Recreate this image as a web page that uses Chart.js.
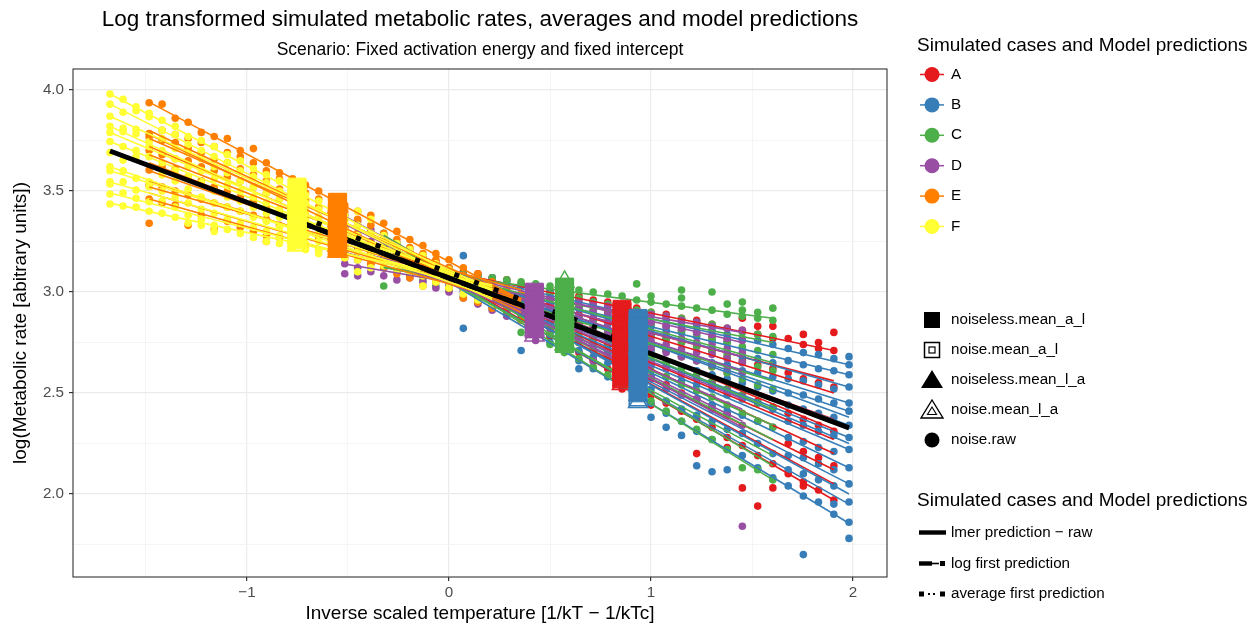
<!DOCTYPE html>
<html>
<head>
<meta charset="utf-8">
<script src="https://cdn.jsdelivr.net/npm/chart.js@4.4.1/dist/chart.umd.min.js"></script>
<style>
  html, body { margin: 0; padding: 0; background: #ffffff; }
</style>
</head>
<body>
<canvas id="MetabolicChart" width="1259" height="635"></canvas>
<script>
const FONT = "'Liberation Sans', Arial, Helvetica, sans-serif";

// inverse scaled temperatures (one column of points per temperature)
const tempCols = [-1.678, -1.613, -1.549, -1.484, -1.42, -1.355, -1.291, -1.226, -1.162, -1.097,
    -1.033, -0.968, -0.904, -0.839, -0.774, -0.71, -0.645, -0.581, -0.516, -0.452,
    -0.387, -0.323, -0.258, -0.194, -0.129, -0.065, 0, 0.071, 0.143, 0.214,
    0.286, 0.357, 0.429, 0.5, 0.571, 0.643, 0.714, 0.786, 0.857, 0.929,
    1, 1.075, 1.151, 1.226, 1.302, 1.377, 1.452, 1.528, 1.603, 1.679,
    1.754, 1.829, 1.905, 1.98];

const caseNames = ['A', 'B', 'C', 'D', 'E', 'F'];
const caseColors = ['#E41A1C', '#377EB8', '#4DAF4A', '#984EA3', '#FF7F00', '#FFFF33'];
const firstCol = [24, 25, 21, 18, 3, 0];

// noise.raw, one array of log rates per temperature column
const rawA = [[3.17, 3.14, 3.10], [3.15, 3.11, 3.07], [3.12, 3.08, 3.05], [3.10, 3.06, 3.02], [3.09, 3.04, 2.99],
    [3.07, 3.01, 2.95], [3.06, 2.99, 2.92], [3.04, 2.97, 2.89], [3.03, 2.95, 2.87],
    [3.01, 2.97, 2.93, 2.89, 2.85, 2.78], [2.99, 2.95, 2.91, 2.86, 2.82, 2.74], [2.98, 2.93, 2.89, 2.84, 2.80, 2.75, 2.70],
    [2.96, 2.91, 2.87, 2.82, 2.77, 2.71, 2.66], [2.95, 2.90, 2.85, 2.80, 2.74, 2.68, 2.62],
    [2.93, 2.88, 2.83, 2.77, 2.71, 2.64, 2.58, 2.52], [2.92, 2.86, 2.81, 2.75, 2.69, 2.61, 2.54],
    [2.90, 2.85, 2.79, 2.73, 2.66, 2.58, 2.49, 2.44], [2.89, 2.83, 2.77, 2.71, 2.63, 2.54, 2.45],
    [2.87, 2.81, 2.75, 2.68, 2.60, 2.50, 2.41], [2.86, 2.80, 2.73, 2.66, 2.57, 2.47, 2.37, 2.20],
    [2.84, 2.78, 2.71, 2.63, 2.55, 2.44, 2.33], [2.82, 2.76, 2.68, 2.60, 2.52, 2.40, 2.28, 2.23],
    [2.87, 2.81, 2.66, 2.49, 2.24, 2.03], [2.83, 2.79, 2.64, 2.46, 2.19, 1.94], [2.83, 2.77, 2.62, 2.43, 2.15, 2.03],
    [2.77, 2.60, 2.40, 2.25, 2.10], [2.79, 2.74, 2.57, 2.37, 2.21, 2.06, 2.04], [2.75, 2.72, 2.55, 2.34, 2.18, 2.02],
    [2.80, 2.71, 2.53, 2.31, 2.14, 1.97]];
const rawB = [[3.14, 3.10, 3.06], [3.12, 3.08, 3.04], [3.18, 3.09, 3.05, 3.00, 2.82], [3.08, 3.03, 2.97], [3.07, 3.00, 2.93],
    [3.05, 2.98, 2.90], [3.03, 2.96, 2.87, 2.71], [3.02, 2.94, 2.86, 2.79],
    [3.00, 2.95, 2.92, 2.87, 2.83, 2.79, 2.75], [2.98, 2.93, 2.90, 2.85, 2.80, 2.75, 2.71],
    [2.96, 2.92, 2.88, 2.82, 2.77, 2.71, 2.66, 2.62], [2.95, 2.90, 2.86, 2.80, 2.75, 2.68, 2.62],
    [2.93, 2.88, 2.84, 2.78, 2.72, 2.65, 2.58], [2.92, 2.86, 2.82, 2.76, 2.69, 2.61, 2.54],
    [2.90, 2.85, 2.80, 2.73, 2.67, 2.58, 2.49], [2.88, 2.83, 2.78, 2.71, 2.64, 2.58, 2.52, 2.45, 2.38],
    [2.86, 2.81, 2.77, 2.71, 2.65, 2.58, 2.52, 2.46, 2.40, 2.33],
    [2.85, 2.80, 2.76, 2.69, 2.63, 2.56, 2.49, 2.42, 2.36, 2.29],
    [2.83, 2.78, 2.74, 2.67, 2.61, 2.54, 2.47, 2.39, 2.31, 2.14],
    [2.81, 2.76, 2.72, 2.65, 2.59, 2.52, 2.44, 2.36, 2.27, 2.11],
    [2.79, 2.75, 2.70, 2.64, 2.57, 2.49, 2.41, 2.32, 2.22, 2.12],
    [2.77, 2.72, 2.68, 2.61, 2.55, 2.47, 2.39, 2.30, 2.19],
    [2.76, 2.67, 2.60, 2.53, 2.45, 2.36, 2.25, 2.13], [2.74, 2.65, 2.58, 2.51, 2.42, 2.33, 2.20, 2.08],
    [2.72, 2.66, 2.57, 2.50, 2.44, 2.36, 2.28, 2.19, 2.12, 2.04],
    [2.70, 2.64, 2.56, 2.49, 2.42, 2.34, 2.26, 2.18, 2.10, 1.99, 1.70],
    [2.69, 2.62, 2.54, 2.47, 2.40, 2.31, 2.23, 2.15, 2.07, 1.96],
    [2.67, 2.61, 2.52, 2.45, 2.38, 2.29, 2.21, 2.12, 2.04, 1.95, 1.90],
    [2.68, 2.64, 2.59, 2.53, 2.45, 2.41, 2.34, 2.28, 2.22, 2.13, 2.05, 1.96, 1.86, 1.78]];
const rawC = [[3.29, 3.23, 3.17, 3.12, 3.03], [3.24, 3.19, 3.15, 3.11], [3.20, 3.16, 3.12, 3.08], [3.17, 3.13, 3.10, 3.06],
    [3.14, 3.10, 3.07, 3.03], [3.11, 3.08, 3.05, 3.01], [3.09, 3.05, 3.02, 2.98], [3.08, 3.03, 2.99, 2.95],
    [3.07, 3.01, 2.96, 2.92], [3.06, 3.00, 2.94, 2.89], [3.05, 2.98, 2.92, 2.86, 2.80], [3.04, 2.97, 2.90, 2.83],
    [3.03, 2.99, 2.96, 2.92, 2.88, 2.84, 2.80, 2.74], [3.02, 2.98, 2.94, 2.90, 2.86, 2.82, 2.78, 2.70],
    [3.01, 2.97, 2.93, 2.88, 2.84, 2.79, 2.75, 2.67], [3.00, 2.95, 2.91, 2.86, 2.82, 2.77, 2.73, 2.63],
    [2.99, 2.94, 2.89, 2.85, 2.80, 2.75, 2.70, 2.59], [2.98, 2.93, 2.88, 2.83, 2.78, 2.72, 2.67, 2.55],
    [3.04, 2.96, 2.91, 2.86, 2.81, 2.75, 2.70, 2.64, 2.51], [2.98, 2.95, 2.90, 2.84, 2.79, 2.73, 2.67, 2.61, 2.46],
    [2.94, 2.88, 2.83, 2.77, 2.71, 2.65, 2.58, 2.41], [3.01, 2.97, 2.93, 2.87, 2.81, 2.75, 2.68, 2.62, 2.54, 2.36],
    [2.92, 2.85, 2.79, 2.73, 2.66, 2.59, 2.51, 2.32], [3.00, 2.91, 2.84, 2.77, 2.70, 2.63, 2.56, 2.48, 2.27],
    [2.94, 2.89, 2.82, 2.75, 2.68, 2.60, 2.52, 2.44, 2.22], [2.95, 2.91, 2.88, 2.80, 2.73, 2.65, 2.57, 2.49, 2.40, 2.13],
    [2.90, 2.87, 2.79, 2.71, 2.63, 2.54, 2.45, 2.36, 2.12], [2.92, 2.86, 2.78, 2.69, 2.61, 2.52, 2.43, 2.33, 2.07]];
const rawD = [[3.38, 3.32, 3.26, 3.20, 3.14, 3.09], [3.35, 3.28, 3.22, 3.16, 3.12, 3.08], [3.31, 3.25, 3.19, 3.14, 3.10],
    [3.28, 3.22, 3.17, 3.12, 3.08], [3.24, 3.19, 3.15, 3.10, 3.06], [3.21, 3.16, 3.12, 3.07], [3.17, 3.13, 3.09, 3.05],
    [3.14, 3.10, 3.06, 3.02], [3.11, 3.07, 3.04, 3.00], [3.08, 3.04, 3.01, 2.97], [3.05, 3.01, 2.98, 2.94],
    [3.03, 2.99, 2.95, 2.91], [3.01, 2.96, 2.92, 2.88], [2.99, 2.95, 2.90, 2.86],
    [2.98, 2.95, 2.93, 2.90, 2.88, 2.84, 2.76], [2.97, 2.94, 2.91, 2.88, 2.86, 2.82],
    [2.96, 2.93, 2.90, 2.87, 2.85, 2.80, 2.73], [2.95, 2.92, 2.88, 2.85, 2.82, 2.76],
    [2.94, 2.90, 2.87, 2.83, 2.80, 2.74, 2.66], [2.93, 2.89, 2.85, 2.81, 2.78, 2.70],
    [2.91, 2.88, 2.84, 2.80, 2.76, 2.68, 2.62], [2.90, 2.86, 2.82, 2.78, 2.74, 2.66, 2.60],
    [2.89, 2.85, 2.80, 2.76, 2.72, 2.64, 2.57], [2.88, 2.83, 2.79, 2.74, 2.70, 2.62, 2.52],
    [2.86, 2.82, 2.77, 2.72, 2.68, 2.59, 2.49], [2.85, 2.80, 2.75, 2.70, 2.66, 2.57, 2.47],
    [2.83, 2.79, 2.74, 2.69, 2.64, 2.54, 2.42], [2.82, 2.77, 2.72, 2.67, 2.62, 2.51, 2.39],
    [2.81, 2.76, 2.70, 2.65, 2.60, 2.48, 2.34, 1.84]];
const rawE = [[3.937, 3.785, 3.769, 3.70, 3.604, 3.53, 3.46, 3.34], [3.93, 3.80, 3.75, 3.68, 3.62, 3.52, 3.44],
    [3.86, 3.78, 3.74, 3.66, 3.61, 3.50, 3.43], [3.84, 3.76, 3.71, 3.65, 3.57, 3.48, 3.33],
    [3.79, 3.74, 3.69, 3.62, 3.55, 3.46, 3.38], [3.77, 3.72, 3.66, 3.60, 3.52, 3.44, 3.31],
    [3.76, 3.69, 3.64, 3.57, 3.50, 3.42, 3.35], [3.70, 3.67, 3.61, 3.55, 3.47, 3.40, 3.32],
    [3.71, 3.64, 3.58, 3.52, 3.45, 3.38, 3.30], [3.64, 3.60, 3.55, 3.49, 3.42, 3.36, 3.28, 3.25],
    [3.59, 3.56, 3.51, 3.46, 3.40, 3.33, 3.27], [3.56, 3.52, 3.48, 3.43, 3.37, 3.31, 3.25],
    [3.53, 3.49, 3.45, 3.40, 3.35, 3.29, 3.23], [3.50, 3.46, 3.42, 3.37, 3.32, 3.27, 3.21],
    [3.46, 3.43, 3.39, 3.35, 3.30, 3.25, 3.19], [3.43, 3.40, 3.36, 3.32, 3.27, 3.23, 3.17],
    [3.40, 3.36, 3.33, 3.29, 3.25, 3.20, 3.16], [3.38, 3.33, 3.29, 3.24, 3.19, 3.14],
    [3.34, 3.29, 3.25, 3.21, 3.16, 3.12], [3.30, 3.26, 3.22, 3.18, 3.14, 3.09], [3.26, 3.22, 3.19, 3.15, 3.11, 3.07],
    [3.23, 3.19, 3.16, 3.12, 3.08, 3.03], [3.19, 3.16, 3.12, 3.09, 3.05], [3.16, 3.12, 3.09, 3.06, 3.02],
    [3.12, 3.08, 3.05, 3.02, 2.97], [3.09, 3.05, 3.02, 2.99, 2.95], [3.05, 3.02, 2.99, 2.96, 2.92],
    [3.02, 2.99, 2.96, 2.93], [2.99, 2.96, 2.93, 2.90, 2.86]];
const rawF = [[3.98, 3.93, 3.87, 3.82, 3.79, 3.745, 3.69, 3.62, 3.60, 3.545, 3.535, 3.485, 3.436],
    [3.954, 3.89, 3.81, 3.794, 3.72, 3.653, 3.60, 3.546, 3.49, 3.426],
    [3.917, 3.897, 3.805, 3.785, 3.70, 3.67, 3.563, 3.505, 3.464, 3.42],
    [3.885, 3.868, 3.744, 3.72, 3.67, 3.546, 3.521, 3.447, 3.40],
    [3.85, 3.80, 3.76, 3.70, 3.64, 3.58, 3.50, 3.45, 3.39], [3.82, 3.78, 3.71, 3.66, 3.60, 3.55, 3.47, 3.42, 3.37],
    [3.77, 3.73, 3.69, 3.62, 3.57, 3.51, 3.44, 3.38, 3.34], [3.75, 3.70, 3.66, 3.60, 3.54, 3.47, 3.41, 3.36, 3.33],
    [3.72, 3.67, 3.62, 3.56, 3.50, 3.44, 3.39, 3.33, 3.30], [3.68, 3.64, 3.59, 3.53, 3.47, 3.42, 3.36, 3.31],
    [3.65, 3.60, 3.55, 3.50, 3.45, 3.40, 3.34, 3.29], [3.61, 3.57, 3.52, 3.47, 3.42, 3.37, 3.32, 3.27],
    [3.58, 3.54, 3.49, 3.44, 3.39, 3.35, 3.30, 3.25], [3.55, 3.50, 3.46, 3.41, 3.37, 3.32, 3.28, 3.24],
    [3.51, 3.47, 3.43, 3.39, 3.34, 3.30, 3.26, 3.22], [3.48, 3.44, 3.40, 3.36, 3.32, 3.28, 3.24, 3.21],
    [3.45, 3.41, 3.37, 3.33, 3.29, 3.25, 3.21, 3.19], [3.41, 3.38, 3.34, 3.30, 3.26, 3.23, 3.19],
    [3.38, 3.34, 3.31, 3.27, 3.24, 3.20, 3.17], [3.40, 3.33, 3.28, 3.24, 3.20, 3.16, 3.10],
    [3.36, 3.29, 3.23, 3.18, 3.12], [3.28, 3.24, 3.20, 3.16, 3.13], [3.24, 3.21, 3.17, 3.14, 3.11],
    [3.21, 3.17, 3.14, 3.10], [3.18, 3.14, 3.11, 3.08, 3.03], [3.14, 3.11, 3.08, 3.05], [3.11, 3.08, 3.05, 3.02],
    [3.07, 3.05, 3.02, 2.99], [3.04, 3.02, 2.99, 2.96], [3.01, 2.99, 2.97, 2.94]];

// per-case fitted lines: [value at first temperature, value at last temperature]
const fitA = [[3.126, 2.71], [3.094, 2.56], [3.13, 2.50], [3.096, 2.37], [3.164, 2.32], [3.124, 2.27], [3.14, 2.20],
    [3.124, 2.12], [3.16, 2.05], [3.144, 1.97]];
const fitB = [[3.115, 2.64], [3.086, 2.59], [3.108, 2.53], [3.08, 2.45], [3.102, 2.41], [3.134, 2.38], [3.073, 2.34],
    [3.115, 2.32], [3.096, 2.28], [3.128, 2.25], [3.088, 2.22], [3.111, 2.13], [3.103, 2.05], [3.126, 2.00],
    [3.096, 1.95], [3.089, 1.855]];
const fitC = [[3.122, 2.87], [3.122, 2.75], [3.179, 2.65], [3.149, 2.56], [3.193, 2.46], [3.237, 2.42], [3.205, 2.34],
    [3.243, 2.27], [3.223, 2.19], [3.281, 2.14], [3.272, 2.07]];
const fitD = [[3.139, 2.80], [3.211, 2.75], [3.195, 2.68], [3.247, 2.61], [3.221, 2.53], [3.283, 2.47], [3.274, 2.42],
    [3.336, 2.36], [3.374, 2.33]];
const fitE = [[3.94, 2.96], [3.80, 2.932], [3.78, 2.899], [3.76, 2.966], [3.72, 2.926], [3.68, 2.96], [3.64, 2.92],
    [3.60, 2.967], [3.55, 2.955], [3.52, 3.011], [3.49, 2.956], [3.46, 2.939]];
const fitF = [[3.98, 2.988], [3.93, 2.972], [3.87, 3.013], [3.82, 2.963], [3.79, 3.001], [3.745, 2.984], [3.69, 3.025],
    [3.62, 2.977], [3.60, 3.014], [3.545, 3.009], [3.49, 3.005], [3.44, 3.034]];

// case averages, placed at each group's mean temperature
const meanX = [0.856, 0.936, 0.572, 0.423, -0.552, -0.752];
const sqA = [2.915, 2.87, 2.83, 2.78, 2.73, 2.68, 2.63, 2.58];
const sqB = [2.87, 2.83, 2.78, 2.73, 2.67, 2.62, 2.56, 2.50];
const sqC = [3.025, 2.99, 2.95, 2.91, 2.87, 2.83, 2.79, 2.75];
const sqD = [3.0, 2.98, 2.96, 2.94, 2.92, 2.90, 2.87, 2.85];
const sqE = [3.445, 3.41, 3.37, 3.34, 3.30, 3.27, 3.24, 3.215];
const sqF = [3.52, 3.48, 3.45, 3.41, 3.37, 3.33, 3.29, 3.26];
const sqNoiseA = [2.90, 2.84, 2.77, 2.70, 2.63, 2.57];
const sqNoiseB = [2.86, 2.80, 2.73, 2.66, 2.58, 2.48];
const sqNoiseC = [3.02, 2.96, 2.90, 2.85, 2.80, 2.745];
const sqNoiseD = [2.99, 2.95, 2.91, 2.88, 2.86, 2.84];
const sqNoiseE = [3.44, 3.38, 3.33, 3.28, 3.23, 3.22];
const sqNoiseF = [3.51, 3.44, 3.39, 3.34, 3.28, 3.25];
const triA = [2.89, 2.80, 2.71, 2.62, 2.56];
const triB = [2.85, 2.76, 2.67, 2.58, 2.49];
const triC = [3.0, 2.93, 2.86, 2.80, 2.76];
const triD = [2.98, 2.93, 2.88, 2.84, 2.80];
const triE = [3.43, 3.36, 3.30, 3.25, 3.21];
const triF = [3.50, 3.43, 3.36, 3.30, 3.25];
const triNoiseA = [2.88, 2.78, 2.68, 2.60, 2.545];
const triNoiseB = [2.84, 2.74, 2.64, 2.54, 2.455];
const triNoiseC = [3.05, 2.95, 2.88, 2.81, 2.74];
const triNoiseD = [2.97, 2.92, 2.86, 2.81, 2.785];
const triNoiseE = [3.42, 3.35, 3.29, 3.23, 3.20];
const triNoiseF = [3.49, 3.40, 3.32, 3.27, 3.23];

// model predictions
const lmerLine = [[-1.678, 3.698], [1.98, 2.327]];
const logFirstLine = [[-0.752, 3.351], [0.936, 2.718]];
const avgFirstLine = [[-0.752, 3.379], [0.936, 2.746]];

const xTickValues = [-1.5, -1, -0.5, 0, 0.5, 1, 1.5, 2];
const xTickLabels = { '-1': '\u22121', '0': '0', '1': '1', '2': '2' };
const yTickValues = [1.75, 2, 2.25, 2.5, 2.75, 3, 3.25, 3.5, 3.75, 4];
const yTickLabels = { '2': '2.0', '2.5': '2.5', '3': '3.0', '3.5': '3.5', '4': '4.0' };

const plotTitle = 'Log transformed simulated metabolic rates, averages and model predictions';
const plotSubtitle = 'Scenario: Fixed activation energy and fixed intercept';
const xTitle = 'Inverse scaled temperature [1/kT \u2212 1/kTc]';
const yTitle = 'log(Metabolic rate [abitrary units])';
const legendTitle = 'Simulated cases and Model predictions';
const shapeNames = ['noiseless.mean_a_l', 'noise.mean_a_l', 'noiseless.mean_l_a', 'noise.mean_l_a', 'noise.raw'];
const predNames = ['lmer prediction \u2212 raw', 'log first prediction', 'average first prediction'];

const raws = [rawA, rawB, rawC, rawD, rawE, rawF];
const fits = [fitA, fitB, fitC, fitD, fitE, fitF];
const squares = [sqA, sqB, sqC, sqD, sqE, sqF];
const squaresNoise = [sqNoiseA, sqNoiseB, sqNoiseC, sqNoiseD, sqNoiseE, sqNoiseF];
const triangles = [triA, triB, triC, triD, triE, triF];
const trianglesNoise = [triNoiseA, triNoiseB, triNoiseC, triNoiseD, triNoiseE, triNoiseF];

function toXY(pairs) {
    return pairs.map(p => ({ x: p[0], y: p[1] }));
}

const datasets = [];
caseNames.forEach((name, i) => {
    const color = caseColors[i];
    const first = firstCol[i];
    const raw = raws[i];
    const rank = (5 - i) * 0.01;

    const pts = [];
    raw.forEach((col, k) => col.forEach(v => pts.push({ x: tempCols[first + k], y: v })));
    datasets.push({
        label: name + ' raw', data: pts, order: 5 + rank,
        pointRadius: 3.8, pointBorderWidth: 0, backgroundColor: color, borderColor: color
    });

    const xEnd = tempCols[first + raw.length - 1];
    fits[i].forEach(f => {
        datasets.push({
            label: name + ' fit', data: [{ x: tempCols[first], y: f[0] }, { x: xEnd, y: f[1] }],
            showLine: true, borderColor: color, borderWidth: 1.6, pointRadius: 0, order: 4 + rank
        });
    });

    const mx = meanX[i];
    datasets.push({
        label: name + ' noise.mean_l_a', data: trianglesNoise[i].map(v => ({ x: mx, y: v })), order: 2 + rank,
        pointStyle: 'triangle', pointRadius: 11, backgroundColor: 'rgba(0,0,0,0)', borderColor: color, borderWidth: 1.5
    });
    datasets.push({
        label: name + ' noiseless.mean_l_a', data: triangles[i].map(v => ({ x: mx, y: v })), order: 2 + rank,
        pointStyle: 'triangle', pointRadius: 11, backgroundColor: color, borderColor: color, borderWidth: 1
    });
    datasets.push({
        label: name + ' noise.mean_a_l', data: squaresNoise[i].map(v => ({ x: mx, y: v })), order: 1 + rank,
        pointStyle: 'rect', pointRadius: 12.5, backgroundColor: 'rgba(0,0,0,0)', borderColor: color, borderWidth: 1.5
    });
    datasets.push({
        label: name + ' noiseless.mean_a_l', data: squares[i].map(v => ({ x: mx, y: v })), order: 1 + rank,
        pointStyle: 'rect', pointRadius: 12.5, backgroundColor: color, borderColor: color, borderWidth: 1
    });
});

datasets.push({
    label: predNames[0], data: toXY(lmerLine), showLine: true,
    borderColor: '#000000', borderWidth: 5, pointRadius: 0, order: 3
});
datasets.push({
    label: predNames[1], data: toXY(logFirstLine), showLine: true, borderDash: [16, 6],
    borderColor: '#000000', borderWidth: 5, pointRadius: 0, order: 3
});
datasets.push({
    label: predNames[2], data: toXY(avgFirstLine), showLine: true, borderDash: [5, 16], borderCapStyle: 'butt',
    borderColor: '#000000', borderWidth: 5, pointRadius: 0, order: 3
});

const isMajorX = v => xTickLabels[String(v)] !== undefined;
const isMajorY = v => yTickLabels[String(v)] !== undefined;

const ggDecor = {
    id: 'ggDecor',
    afterDatasetsDraw(chart) {
        const a = chart.chartArea;
        const ctx = chart.ctx;
        ctx.save();
        ctx.strokeStyle = '#333333';
        ctx.lineWidth = 1.1;
        ctx.strokeRect(a.left, a.top, a.right - a.left, a.bottom - a.top);
        ctx.restore();
    },
    afterDraw(chart) {
        const ctx = chart.ctx;
        const a = chart.chartArea;
        const cx = (a.left + a.right) / 2;
        ctx.save();
        ctx.fillStyle = '#000000';
        ctx.textAlign = 'center';
        ctx.textBaseline = 'middle';
        ctx.font = '22.5px ' + FONT;
        ctx.fillText(plotTitle, cx, 20);
        ctx.font = '17.5px ' + FONT;
        ctx.fillText(plotSubtitle, cx, 50);
        ctx.font = '19px ' + FONT;
        ctx.fillText(xTitle, cx, 614);
        ctx.save();
        ctx.translate(21, (a.top + a.bottom) / 2);
        ctx.rotate(-Math.PI / 2);
        ctx.fillText(yTitle, 0, 0);
        ctx.restore();

        // legend: cases
        ctx.textAlign = 'left';
        ctx.font = '19px ' + FONT;
        ctx.fillText(legendTitle, 917, 46);
        ctx.font = '15.2px ' + FONT;
        caseNames.forEach((name, i) => {
            const y = 74.5 + i * 30.4;
            ctx.strokeStyle = caseColors[i];
            ctx.lineWidth = 1.5;
            ctx.beginPath();
            ctx.moveTo(920, y);
            ctx.lineTo(944, y);
            ctx.stroke();
            ctx.fillStyle = caseColors[i];
            ctx.beginPath();
            ctx.arc(932, y, 7.5, 0, Math.PI * 2);
            ctx.fill();
            ctx.fillStyle = '#000000';
            ctx.fillText(name, 951, y);
        });

        // legend: marker shapes
        const shapeY = [320, 350, 380, 410, 440];
        ctx.fillStyle = '#000000';
        ctx.strokeStyle = '#000000';
        ctx.fillRect(924, shapeY[0] - 8, 16, 16);
        ctx.lineWidth = 1.5;
        ctx.strokeRect(924.5, shapeY[1] - 7.5, 15, 15);
        ctx.lineWidth = 1.2;
        ctx.strokeRect(929, shapeY[1] - 3, 6, 6);
        ctx.beginPath();
        ctx.moveTo(932, shapeY[2] - 10);
        ctx.lineTo(943, shapeY[2] + 8);
        ctx.lineTo(921, shapeY[2] + 8);
        ctx.closePath();
        ctx.fill();
        ctx.lineWidth = 1.4;
        ctx.beginPath();
        ctx.moveTo(932, shapeY[3] - 10);
        ctx.lineTo(943, shapeY[3] + 8);
        ctx.lineTo(921, shapeY[3] + 8);
        ctx.closePath();
        ctx.stroke();
        ctx.lineWidth = 1.1;
        ctx.beginPath();
        ctx.moveTo(932, shapeY[3] - 3);
        ctx.lineTo(936.5, shapeY[3] + 4.5);
        ctx.lineTo(927.5, shapeY[3] + 4.5);
        ctx.closePath();
        ctx.stroke();
        ctx.beginPath();
        ctx.arc(932, shapeY[4], 7.5, 0, Math.PI * 2);
        ctx.fill();
        shapeNames.forEach((name, i) => ctx.fillText(name, 951, shapeY[i]));

        // legend: predictions
        ctx.font = '19px ' + FONT;
        ctx.fillText(legendTitle, 917, 501);
        ctx.font = '15.2px ' + FONT;
        const predY = [532.5, 563.5, 594];
        ctx.fillRect(919, predY[0] - 2.2, 27, 4.4);
        ctx.fillRect(919, predY[1] - 2.2, 13, 4.4);
        ctx.fillRect(932, predY[1] - 0.8, 7, 1.6);
        ctx.fillRect(940, predY[1] - 2.5, 5, 5);
        ctx.fillRect(919, predY[2] - 2.5, 5, 5);
        ctx.fillRect(928, predY[2] - 1, 2, 2);
        ctx.fillRect(933, predY[2] - 1, 2, 2);
        ctx.fillRect(940, predY[2] - 2.5, 5, 5);
        predNames.forEach((name, i) => ctx.fillText(name, 951, predY[i]));
        ctx.restore();
    }
};

const ctx = document.getElementById('MetabolicChart').getContext('2d');
new Chart(ctx, {
    type: 'scatter',
    data: { datasets: datasets },
    options: {
        responsive: false,
        animation: false,
        events: [],
        layout: { padding: { left: 0, right: 372, top: 69, bottom: 0 } },
        plugins: {
            legend: { display: false },
            tooltip: { enabled: false },
            title: { display: false }
        },
        scales: {
            x: {
                type: 'linear', min: -1.861, max: 2.168,
                afterBuildTicks: s => { s.ticks = xTickValues.map(v => ({ value: v })); },
                afterFit: s => { s.height = 58; },
                border: { display: false },
                grid: {
                    color: c => isMajorX(c.tick.value) ? '#ebebeb' : '#f3f3f3',
                    lineWidth: c => isMajorX(c.tick.value) ? 1.2 : 0.8,
                    tickColor: c => isMajorX(c.tick.value) ? '#333333' : 'rgba(0,0,0,0)',
                    tickLength: 4,
                    drawTicks: true
                },
                ticks: {
                    autoSkip: false, maxRotation: 0, padding: 3,
                    color: '#4d4d4d', font: { family: FONT, size: 15.2 },
                    callback: v => xTickLabels[String(v)] || ''
                }
            },
            y: {
                type: 'linear', min: 1.589, max: 4.104,
                afterBuildTicks: s => { s.ticks = yTickValues.map(v => ({ value: v })); },
                afterFit: s => { s.width = 73; },
                border: { display: false },
                grid: {
                    color: c => isMajorY(c.tick.value) ? '#ebebeb' : '#f3f3f3',
                    lineWidth: c => isMajorY(c.tick.value) ? 1.2 : 0.8,
                    tickColor: c => isMajorY(c.tick.value) ? '#333333' : 'rgba(0,0,0,0)',
                    tickLength: 4,
                    drawTicks: true
                },
                ticks: {
                    autoSkip: false, padding: 5,
                    color: '#4d4d4d', font: { family: FONT, size: 15.2 },
                    callback: v => yTickLabels[String(v)] || ''
                }
            }
        }
    },
    plugins: [ggDecor]
});
</script>
</body>
</html>
